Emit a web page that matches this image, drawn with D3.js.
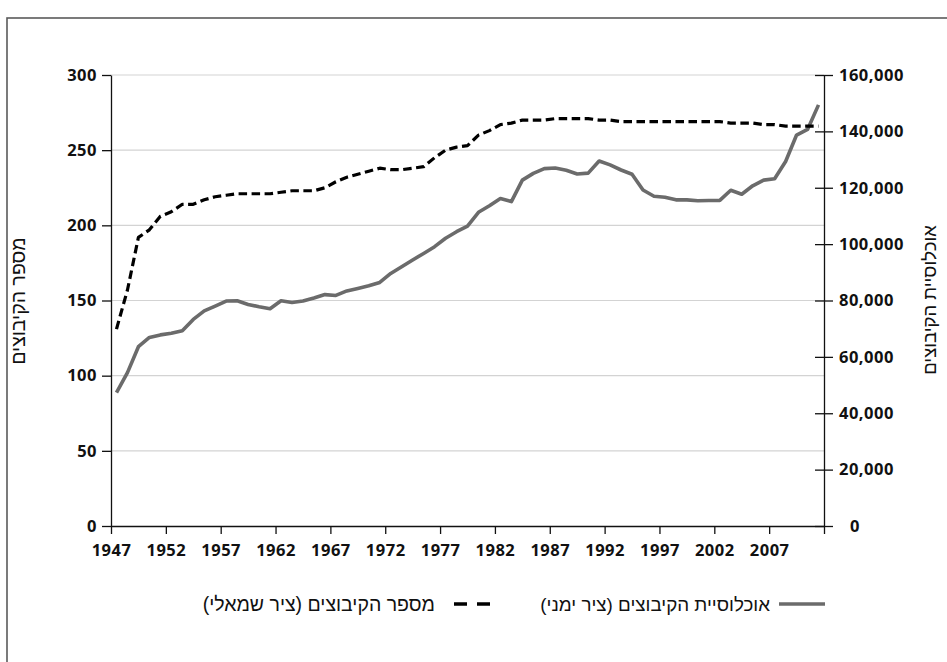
<!DOCTYPE html>
<html lang="he">
<head>
<meta charset="utf-8">
<script src="https://cdn.jsdelivr.net/npm/d3@7"></script>
<style>
  body { margin: 0; background: #fff; }
  .num { font-family: "Open Sans", sans-serif; font-size: 16.5px; font-weight: 700; letter-spacing: 0.5px; fill: #111; }
  .heb { font-family: "Liberation Sans Narrow", "Liberation Sans", sans-serif; fill: #111; }
</style>
</head>
<body>
<div id="chart"></div>
<script>
const years = d3.range(1947, 2012)

// number of kibbutzim (left axis)
const kibbutzCount = [
  131, 157, 192, 197, 206, 209, 214, 214, 217, 219,
  220, 221, 221, 221, 221, 222, 223, 223, 223, 225,
  229, 232, 234, 236, 238, 237, 237, 238, 239, 245,
  250, 252, 253, 260, 263, 267, 268, 270, 270, 270,
  271, 271, 271, 271, 270, 270, 269, 269, 269, 269,
  269, 269, 269, 269, 269, 269, 268, 268, 268, 267,
  267, 266, 266, 266, 266
]

// kibbutz population (right axis)
const kibbutzPopulation = [
  47300, 54400, 63600, 66900, 67800, 68400, 69300, 73300, 76300, 78000,
  79800, 79900, 78600, 77800, 77100, 79900, 79300, 79800, 80900, 82100,
  81800, 83400, 84300, 85200, 86400, 89600, 92000, 94400, 96700, 99100,
  102100, 104400, 106400, 111300, 113600, 116200, 115100, 122700, 125100, 126800,
  127000, 126200, 124900, 125200, 129500, 128100, 126300, 124800, 119200, 117000,
  116600, 115700, 115700, 115400, 115500, 115500, 119100, 117700, 120700, 122700,
  123200, 129300, 138700, 140700, 149400
]

const xTickYears = [1947, 1952, 1957, 1962, 1967, 1972, 1977, 1982, 1987, 1992, 1997, 2002, 2007, 2012]
const xTickLabels = ['1947', '1952', '1957', '1962', '1967', '1972', '1977', '1982', '1987', '1992', '1997', '2002', '2007', '']
const leftTicks = [0, 50, 100, 150, 200, 250, 300]
const rightTicks = [0, 20000, 40000, 60000, 80000, 100000, 120000, 140000, 160000]

const leftTitle = 'מספר הקיבוצים'
const rightTitle = 'אוכלוסיית הקיבוצים'
const legendPop = 'אוכלוסיית הקיבוצים (ציר ימני)'
const legendCount = 'מספר הקיבוצים  (ציר שמאלי)'

const w = 947
const h = 662
const plotLeft = 111, plotRight = 824, plotTop = 75, plotBottom = 526

const svg = d3.select('#chart')
  .append('svg')
  .attr('width', w)
  .attr('height', h)

// outer frame
svg.append('rect')
  .attr('x', 7)
  .attr('y', 18)
  .attr('width', w + 10)
  .attr('height', h + 10)
  .attr('fill', 'none')
  .attr('stroke', '#5a5a5a')
  .attr('stroke-width', 1.6)

const x = d3.scaleLinear().domain([1947, 2012]).range([plotLeft, plotRight])
const yLeft = d3.scaleLinear().domain([0, 300]).range([plotBottom, plotTop])
const yRight = d3.scaleLinear().domain([0, 160000]).range([plotBottom, plotTop])

// gridlines
svg.append('g')
  .selectAll('line')
  .data(leftTicks.filter(d => d > 0))
  .enter()
  .append('line')
  .attr('x1', plotLeft)
  .attr('x2', plotRight)
  .attr('y1', d => yLeft(d))
  .attr('y2', d => yLeft(d))
  .attr('stroke', '#d3d3d3')
  .attr('stroke-width', 1.2)

const styleAxis = (g) => {
  g.attr('font-family', null).attr('font-size', null)
  g.selectAll('.domain').attr('stroke', '#111').attr('stroke-width', 1.3)
  g.selectAll('.tick line').attr('stroke', '#111').attr('stroke-width', 1.3)
  g.selectAll('.tick text').attr('class', 'num')
}

svg.append('g')
  .attr('transform', 'translate(' + plotLeft + ',0)')
  .call(d3.axisLeft(yLeft).tickValues(leftTicks).tickSize(9).tickSizeOuter(0).tickPadding(5))
  .call(styleAxis)

const rightAxis = svg.append('g')
  .attr('transform', 'translate(' + plotRight + ',0)')
  .call(d3.axisRight(yRight).tickValues(rightTicks).tickSize(9).tickSizeOuter(0).tickPadding(6)
    .tickFormat(d3.format(',')))
  .call(styleAxis)
rightAxis.selectAll('.tick line').attr('x1', -9)
rightAxis.selectAll('.tick text').filter(d => d === 0).attr('x', 26)

svg.append('g')
  .attr('transform', 'translate(0,' + plotBottom + ')')
  .call(d3.axisBottom(x).tickValues(xTickYears).tickSize(8).tickSizeOuter(0).tickPadding(10)
    .tickFormat((d, i) => xTickLabels[i]))
  .call(styleAxis)

// series
const popLine = d3.line()
  .x((d, i) => x(years[i] + 0.5))
  .y(d => yRight(d))

const countLine = d3.line()
  .x((d, i) => x(years[i] + 0.5))
  .y(d => yLeft(d))

svg.append('path')
  .datum(kibbutzPopulation)
  .attr('d', popLine)
  .attr('fill', 'none')
  .attr('stroke', '#6b6b6b')
  .attr('stroke-width', 3.6)
  .attr('stroke-linejoin', 'round')

svg.append('path')
  .datum(kibbutzCount)
  .attr('d', countLine)
  .attr('fill', 'none')
  .attr('stroke', '#000')
  .attr('stroke-width', 3.2)
  .attr('stroke-dasharray', '8.5,4.5')
  .attr('stroke-linejoin', 'round')

// axis titles
svg.append('text')
  .attr('class', 'heb')
  .attr('transform', 'translate(18,301) rotate(-90)')
  .attr('text-anchor', 'middle')
  .attr('dy', '0.35em')
  .attr('font-size', 19.5)
  .text(leftTitle)

svg.append('text')
  .attr('class', 'heb')
  .attr('transform', 'translate(930,300) rotate(-90)')
  .attr('text-anchor', 'middle')
  .attr('dy', '0.35em')
  .attr('font-size', 18.5)
  .text(rightTitle)

// legend
const legendY = 604
svg.append('line')
  .attr('x1', 779).attr('x2', 825)
  .attr('y1', legendY).attr('y2', legendY)
  .attr('stroke', '#6b6b6b')
  .attr('stroke-width', 3.6)

svg.append('text')
  .attr('class', 'heb')
  .attr('x', 770)
  .attr('y', legendY)
  .attr('dy', '0.35em')
  .attr('direction', 'rtl')
  .attr('text-anchor', 'start')
  .attr('font-size', 18.8)
  .text(legendPop)

svg.append('line')
  .attr('x1', 454).attr('x2', 490)
  .attr('y1', legendY).attr('y2', legendY)
  .attr('stroke', '#000')
  .attr('stroke-width', 3.4)
  .attr('stroke-dasharray', '13,10')

svg.append('text')
  .attr('class', 'heb')
  .attr('x', 435)
  .attr('y', legendY)
  .attr('dy', '0.35em')
  .attr('direction', 'rtl')
  .attr('text-anchor', 'start')
  .attr('font-size', 19.5)
  .text(legendCount)
</script>
</body>
</html>
